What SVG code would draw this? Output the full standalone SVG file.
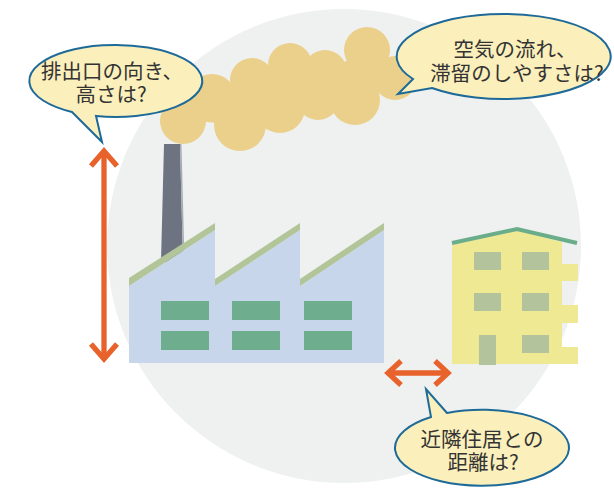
<svg xmlns="http://www.w3.org/2000/svg" width="614" height="488" viewBox="0 0 614 488">
  <style>
    .smoke { fill: #ebd08b; }
    .wall { fill: #c8d6ec; }
    .roof { fill: #b1c598; }
    .fwin { fill: #6eae8f; }
    .house { fill: #f0e994; }
    .hwin { fill: #b3c49c; }
    .arr { fill: none; stroke: #e8622c; stroke-width: 5.3; stroke-linejoin: miter; stroke-miterlimit: 10; }
    .bubble { fill: #fbefbb; stroke: #1d6a99; stroke-width: 2; stroke-linejoin: miter; }
    .label { font-family: "Noto Sans CJK JP", "Noto Sans", sans-serif; font-size: 20.5px; fill: #333333; text-anchor: middle; }
  </style>

  <!-- backdrop disc -->
  <circle id="backdrop" cx="344" cy="246" r="237" fill="#eff0f0"/>

  <!-- smoke plume -->
  <g id="smoke" class="smoke">
    <polygon points="185,120 212,98 252,80 290,65 325,72 367,50 395,78 355,100 318,100 280,110 240,125"/>
    <circle cx="183" cy="121" r="23"/>
    <circle cx="212" cy="98" r="24"/>
    <circle cx="240" cy="125" r="26"/>
    <circle cx="252" cy="80" r="22"/>
    <circle cx="290" cy="65" r="22"/>
    <circle cx="280" cy="108" r="25"/>
    <circle cx="325" cy="72" r="22"/>
    <circle cx="318" cy="98" r="22"/>
    <circle cx="355" cy="100" r="25"/>
    <circle cx="367" cy="50" r="23"/>
    <circle cx="395" cy="78" r="22"/>
  </g>

  <!-- factory -->
  <g id="factory">
    <polygon points="164,144 180,144 183,262 161,262" fill="#6e7382"/>
    <polygon points="180,144 181.5,144 184.5,262 183,262" fill="#a9acb5"/>
    <polygon class="wall" points="129,286 215,230 215,286 300,230 300,286 384,230 384,363 129,363"/>
    <polygon class="roof" points="129,278 215,223 215,230 129,286"/>
    <polygon class="roof" points="215,279 300,223 300,230 215,286"/>
    <polygon class="roof" points="300,279 384,223 384,230 300,286"/>
    <rect class="fwin" x="161" y="301" width="48" height="19"/>
    <rect class="fwin" x="232" y="301" width="48" height="19"/>
    <rect class="fwin" x="304" y="301" width="48" height="19"/>
    <rect class="fwin" x="161" y="331" width="48" height="19"/>
    <rect class="fwin" x="232" y="331" width="48" height="19"/>
    <rect class="fwin" x="304" y="331" width="48" height="19"/>
  </g>

  <!-- apartment house -->
  <g id="house">
    <polygon class="house" points="452,245 517,230 562,242 562,264 578,264 578,281 562,281 562,305 578,305 578,323 562,323 562,347 578,347 578,364 452,364"/>
    <polyline points="452,243 517,229 577,243" fill="none" stroke="#6aad8a" stroke-width="4"/>
    <rect class="hwin" x="474" y="252" width="27" height="18"/>
    <rect class="hwin" x="522" y="252" width="27" height="18"/>
    <rect class="hwin" x="474" y="293" width="27" height="18"/>
    <rect class="hwin" x="522" y="293" width="27" height="18"/>
    <rect class="hwin" x="522" y="335" width="27" height="18"/>
    <rect class="hwin" x="479" y="335" width="17" height="30"/>
  </g>

  <!-- dimension arrows -->
  <g id="connectors">
    <line class="arr" x1="104" y1="152" x2="104" y2="358"/>
    <polyline class="arr" points="91,166 104,151 117,166"/>
    <polyline class="arr" points="91,344 104,359 117,344"/>
    <line class="arr" x1="389" y1="373" x2="447" y2="373"/>
    <polyline class="arr" points="401,361 388,373 401,385"/>
    <polyline class="arr" points="435,361 448,373 435,385"/>
  </g>

  <!-- question bubbles -->
  <g id="bubble-stack">
    <path class="bubble" d="M 72,112 L 102,142 L 96,116 A 86.5 36 0 1 0 72,112 Z"/>
    <text class="label"><tspan x="112" y="79">排出口の向き、</tspan><tspan x="111" y="102">高さは?</tspan></text>
  </g>

  <g id="bubble-air">
    <path class="bubble" d="M 413,79 L 398,94 L 432,88 A 107 42.5 0 1 0 413,79 Z"/>
    <text class="label"><tspan x="515" y="57">空気の流れ、</tspan><tspan x="517" y="81">滞留のしやすさは?</tspan></text>
  </g>

  <g id="bubble-distance">
    <path class="bubble" d="M 447,413 L 426,389 L 431,417 A 87 38 0 1 0 447,413 Z"/>
    <text class="label"><tspan x="482" y="447">近隣住居との</tspan><tspan x="483" y="470">距離は?</tspan></text>
  </g>
</svg>
